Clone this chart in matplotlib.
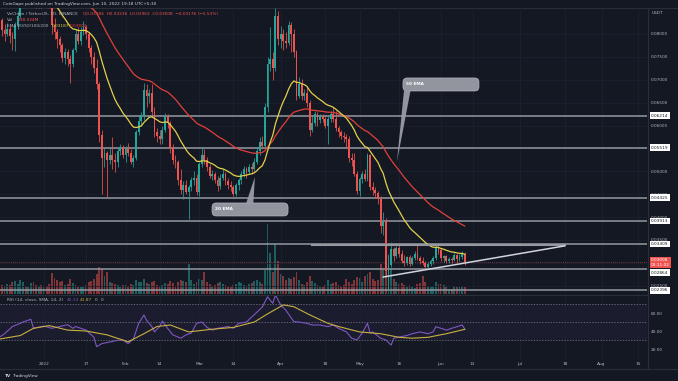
import matplotlib
matplotlib.use("Agg")
import matplotlib.pyplot as plt
import matplotlib.transforms as mtransforms
from matplotlib.colors import to_rgba
from matplotlib.lines import Line2D
from matplotlib.patches import FancyBboxPatch, Polygon
import numpy as np
import pandas as pd

# ---------------------------------------------------------------------------
# Data: VET/USDT daily, 16 Dec 2021 -> 10 Jun 2022
# ---------------------------------------------------------------------------
FIRST_DAY = "2021-12-16"
FIRST_OPEN = 0.0830

CLOSE = [
    # Dec 16-31
    0.0808, 0.0800, 0.0812, 0.0795, 0.0790, 0.0818, 0.0840, 0.0890,
    0.0905, 0.0900, 0.0915, 0.0940, 0.0880, 0.0860, 0.0870, 0.0860,
    # Jan
    0.0885, 0.0880, 0.0860, 0.0820, 0.0805, 0.0790, 0.0775, 0.0748,
    0.0760, 0.0745, 0.0735, 0.0765, 0.0800, 0.0785, 0.0805, 0.0815,
    0.0800, 0.0770, 0.0750, 0.0725, 0.0690, 0.0580, 0.0530, 0.0540,
    0.0525, 0.0535, 0.0525, 0.0520, 0.0545, 0.0552, 0.0535,
    # Feb
    0.0550, 0.0540, 0.0520, 0.0530, 0.0585, 0.0610, 0.0620, 0.0678,
    0.0665, 0.0672, 0.0630, 0.0585, 0.0578, 0.0570, 0.0590, 0.0620,
    0.0605, 0.0550, 0.0525, 0.0520, 0.0480, 0.0460, 0.0470, 0.0455,
    0.0465, 0.0480, 0.0485, 0.0455,
    # Mar
    0.0515, 0.0535, 0.0525, 0.0510, 0.0490, 0.0495, 0.0480, 0.0468,
    0.0485, 0.0495, 0.0478, 0.0470, 0.0465, 0.0450, 0.0470, 0.0480,
    0.0495, 0.0505, 0.0498, 0.0510, 0.0505, 0.0520, 0.0545, 0.0565,
    0.0555, 0.0640, 0.0735, 0.0745, 0.0725, 0.0840, 0.0790,
    # Apr
    0.0800, 0.0785, 0.0780, 0.0820, 0.0800, 0.0760, 0.0665, 0.0690,
    0.0665, 0.0672, 0.0650, 0.0590, 0.0605, 0.0625, 0.0612, 0.0618,
    0.0615, 0.0600, 0.0615, 0.0625, 0.0615, 0.0595, 0.0585, 0.0578,
    0.0575, 0.0570, 0.0530, 0.0525, 0.0495, 0.0456,
    # May
    0.0483, 0.0495, 0.0483, 0.0535, 0.0465, 0.0460, 0.0452, 0.0440,
    0.0380, 0.0392, 0.0282, 0.0295, 0.0330, 0.0315, 0.0333, 0.0320,
    0.0305, 0.0300, 0.0312, 0.0298, 0.0310, 0.0320, 0.0310, 0.0305,
    0.0300, 0.0290, 0.0298, 0.0303, 0.0310, 0.0335, 0.0328,
    # Jun 1-10
    0.0310, 0.0315, 0.0305, 0.0308, 0.0306, 0.0318, 0.0308, 0.0312,
    0.03184, 0.03008,
]

HIGH = [
    0.0835, 0.0822, 0.0825, 0.0818, 0.0805, 0.0826, 0.0850, 0.0900,
    0.0930, 0.0920, 0.0930, 0.0975, 0.0945, 0.0890, 0.0885, 0.0890,
    0.0890, 0.0900, 0.0890, 0.0870, 0.0835, 0.0812, 0.0795, 0.0780,
    0.0770, 0.0768, 0.0755, 0.0770, 0.0810, 0.0815, 0.0815, 0.0828,
    0.0820, 0.0805, 0.0775, 0.0760, 0.0745, 0.0695, 0.0590, 0.0550,
    0.0545, 0.0550, 0.0575, 0.0540, 0.0550, 0.0560, 0.0558,
    0.0556, 0.0562, 0.0548, 0.0536, 0.0590, 0.0622, 0.0630, 0.0693,
    0.0690, 0.0680, 0.0690, 0.0640, 0.0595, 0.0590, 0.0600, 0.0628,
    0.0625, 0.0610, 0.0560, 0.0535, 0.0525, 0.0505, 0.0478, 0.0480,
    0.0470, 0.0488, 0.0500, 0.0495,
    0.0520, 0.0554, 0.0548, 0.0532, 0.0515, 0.0502, 0.0498, 0.0490,
    0.0495, 0.0505, 0.0498, 0.0485, 0.0478, 0.0470, 0.0475, 0.0485,
    0.0500, 0.0512, 0.0510, 0.0516, 0.0518, 0.0530, 0.0552, 0.0575,
    0.0578, 0.0650, 0.0750, 0.0815, 0.0760, 0.0857, 0.0850,
    0.0818, 0.0810, 0.0805, 0.0828, 0.0826, 0.0812, 0.0765, 0.0705,
    0.0702, 0.0680, 0.0685, 0.0655, 0.0620, 0.0632, 0.0630, 0.0625,
    0.0625, 0.0620, 0.0620, 0.0632, 0.0640, 0.0632, 0.0600, 0.0590,
    0.0585, 0.0582, 0.0578, 0.0540, 0.0540, 0.0500,
    0.0488, 0.0500, 0.0505, 0.0541, 0.0537, 0.0476, 0.0465, 0.0456,
    0.0445, 0.0410, 0.0398, 0.0318, 0.0345, 0.0335, 0.0337, 0.0340,
    0.0328, 0.0318, 0.0316, 0.0318, 0.0315, 0.0325, 0.0338, 0.0316,
    0.0312, 0.0305, 0.0302, 0.0308, 0.0314, 0.0340, 0.0340,
    0.0332, 0.0318, 0.0318, 0.0312, 0.0312, 0.0322, 0.0320, 0.0320,
    0.0326, 0.03236,
]

LOW = [
    0.0795, 0.0785, 0.0795, 0.0780, 0.0765, 0.0763, 0.0812, 0.0835,
    0.0880, 0.0885, 0.0890, 0.0905, 0.0870, 0.0856, 0.0857, 0.0856,
    0.0858, 0.0865, 0.0856, 0.0800, 0.0790, 0.0770, 0.0760, 0.0738,
    0.0735, 0.0730, 0.0693, 0.0728, 0.0760, 0.0778, 0.0775, 0.0798,
    0.0790, 0.0760, 0.0735, 0.0715, 0.0680, 0.0565, 0.0450, 0.0510,
    0.0443, 0.0515, 0.0505, 0.0498, 0.0510, 0.0535, 0.0528,
    0.0520, 0.0533, 0.0515, 0.0510, 0.0525, 0.0580, 0.0600, 0.0612,
    0.0640, 0.0650, 0.0620, 0.0575, 0.0563, 0.0560, 0.0560, 0.0585,
    0.0595, 0.0540, 0.0515, 0.0508, 0.0470, 0.0450, 0.0440, 0.0450,
    0.0396, 0.0458, 0.0470, 0.0448,
    0.0446, 0.0510, 0.0515, 0.0500, 0.0485, 0.0480, 0.0475, 0.0458,
    0.0462, 0.0480, 0.0470, 0.0462, 0.0458, 0.0445, 0.0445, 0.0460,
    0.0472, 0.0488, 0.0485, 0.0495, 0.0495, 0.0500, 0.0515, 0.0535,
    0.0548, 0.0552, 0.0630, 0.0720, 0.0700, 0.0720, 0.0775,
    0.0770, 0.0765, 0.0770, 0.0775, 0.0760, 0.0750, 0.0655, 0.0660,
    0.0655, 0.0655, 0.0640, 0.0578, 0.0585, 0.0598, 0.0600, 0.0605,
    0.0608, 0.0595, 0.0560, 0.0608, 0.0608, 0.0588, 0.0575, 0.0570,
    0.0565, 0.0550, 0.0520, 0.0512, 0.0490, 0.0450,
    0.0446, 0.0475, 0.0478, 0.0478, 0.0460, 0.0448, 0.0442, 0.0428,
    0.0365, 0.0360, 0.0270, 0.0240, 0.0290, 0.0305, 0.0310, 0.0312,
    0.0300, 0.0292, 0.0295, 0.0292, 0.0296, 0.0306, 0.0306, 0.0298,
    0.0295, 0.0286, 0.0288, 0.0293, 0.0298, 0.0306, 0.0320,
    0.0305, 0.0302, 0.0300, 0.0300, 0.0300, 0.0304, 0.0300, 0.0303,
    0.0308, 0.02963,
]

# volume in millions of VET
VOLUME = [
    180, 160, 200, 180, 240, 260, 200, 280, 240, 160, 140, 220, 240, 180, 160, 180,
    140, 160, 200, 420, 320, 280, 240, 260, 180, 200, 300, 220, 180, 160, 140, 160,
    180, 240, 260, 300, 400, 540, 500, 360, 440, 240, 220, 200, 180, 140, 180,
    180, 160, 200, 180, 280, 240, 240, 300, 220, 200, 240, 260, 180, 160, 180, 220,
    200, 260, 220, 160, 240, 280, 260, 240, 600, 280, 200, 240,
    300, 280, 440, 240, 200, 160, 180, 220, 240, 200, 180, 160, 140, 180, 200, 240,
    220, 180, 160, 200, 220, 260, 280, 240, 200, 480, 1400, 820, 440, 1000, 660,
    400, 360, 280, 320, 300, 340, 440, 280, 200, 180, 240, 360, 260, 220, 180, 160,
    140, 180, 280, 200, 220, 240, 180, 160, 180, 300, 240, 200, 280, 340,
    320, 240, 360, 400, 440, 300, 260, 280, 600, 500, 760, 800, 500, 300, 240, 200,
    220, 180, 160, 180, 140, 120, 200, 220, 360, 240, 160, 140, 160, 240, 200,
    200, 180, 140, 100, 100, 160, 140, 160, 140, 139,
]

EMA20_SEED = 0.092
EMA50_SEED = 0.100

# horizontal levels drawn on the chart
LEVELS = [0.06214, 0.05519, 0.04425, 0.03913, 0.03409, 0.02864, 0.02396]
LAST_PRICE = 0.03008

# triangle pattern (dates, prices)
SUPPORT_DATES = ["2022-05-10", "2022-07-18"]
SUPPORT_PRICES = [0.0269, 0.0337]
RESIST_DATES = ["2022-04-13", "2022-07-18"]
RESIST_PRICES = [0.0338, 0.0338]

# RSI(14) and its SMA(14), read as (day since 1 Jan 2022, value)
RSI_DAY = [-17, -15, -12, -9, -8, -5, -4, 0, 3, 6, 9, 11, 12, 16, 19, 20, 22, 25,
           28, 30, 32, 34, 36, 38, 39, 41, 42, 44, 45, 47, 49, 52, 54, 56, 58, 60,
           62, 64, 66, 70, 72, 74, 77, 79, 81, 83, 85, 86, 87, 88, 90, 92, 95, 97,
           100, 102, 105, 108, 110, 112, 115, 117, 119, 121, 123, 124, 125, 128,
           130, 132, 133, 135, 138, 140, 143, 146, 148, 149, 151, 153, 155, 157,
           159, 160]
RSI_VALUE = [33, 37, 45, 48.5, 50, 53, 43, 45.5, 43, 45, 47, 43, 45, 41, 33, 22.6,
             26, 27.8, 29.6, 30, 26, 31, 48.5, 57.8, 52, 45, 39, 45, 51, 43, 35.7,
             32, 35.7, 37.7, 48.5, 50, 44, 41, 43, 45, 43, 48.5, 50, 55.6, 61, 66.6,
             78, 74.4, 70.7, 80, 69, 63, 50.4, 50, 48.5, 46.7, 46.7, 44.8, 46.7, 43,
             39, 32, 30, 37.7, 48.5, 37.7, 39, 32, 30, 24.4, 32, 33.3, 35, 37, 39,
             37, 39, 44.8, 43, 41, 43, 44.8, 46.7, 42.13]
RSI_MA_DAY = [-17, -9, -4, 2, 9, 16, 24, 32, 38, 43, 48, 55, 64, 72, 80, 85, 91,
              95, 101, 108, 112, 120, 128, 135, 140, 146, 153, 160]
RSI_MA_VALUE = [31, 35, 43, 46, 41, 40, 35.7, 28, 37, 45, 46.7, 39, 42, 44, 50, 59,
                69, 67, 58, 48.5, 45, 39, 37, 33, 32, 33, 37, 41.87]

TICK_DATES = ["2022-01-01", "2022-01-17", "2022-02-01", "2022-02-14", "2022-03-01",
              "2022-03-14", "2022-04-01", "2022-04-18", "2022-05-01", "2022-05-16",
              "2022-06-01", "2022-06-13", "2022-07-01", "2022-07-18", "2022-08-01",
              "2022-08-15"]
TICK_LABELS = ["2022", "17", "Feb", "14", "Mar", "14", "Apr", "18", "May", "16",
               "Jun", "13", "Jul", "18", "Aug", "15"]

# ---------------------------------------------------------------------------
# Style
# ---------------------------------------------------------------------------
W, H = 678, 381
BG = "#141823"
GRID = "#1c2030"
TEXT = "#b2b5be"
GREEN = "#26a69a"
RED = "#ef5350"
EMA20_COLOR = "#e3d04a"
EMA50_COLOR = "#e0413a"
LEVEL_COLOR = "#9598a1"
RSI_COLOR = "#7e57c2"
RSI_MA_COLOR = "#c8b040"
FS = 3.1
ORIGIN = pd.Timestamp("2022-01-01")
X_LEFT, X_RIGHT = -16.73, 229.3
P_TOP, P_BOTTOM = 0.08568, 0.02319


def day_of(dates):
    return np.asarray((pd.to_datetime(dates) - ORIGIN).days, dtype=float)


def frac(x0, y0, x1, y1):
    return [x0 / W, 1 - y1 / H, (x1 - x0) / W, (y1 - y0) / H]


def fig_text(fig, x, y, s, **kw):
    kw.setdefault("fontsize", FS)
    kw.setdefault("color", TEXT)
    fig.text(x / W, 1 - y / H, s, va="center", ha=kw.pop("ha", "left"), **kw)


# ---------------------------------------------------------------------------
# Derived series
# ---------------------------------------------------------------------------
close = np.array(CLOSE)
high = np.array(HIGH)
low = np.array(LOW)
volume = np.array(VOLUME, dtype=float)
open_ = np.concatenate([[FIRST_OPEN], close[:-1]])
dates = pd.date_range(FIRST_DAY, periods=len(close), freq="D")
day = day_of(dates)
up = close >= open_

ema20 = pd.Series([EMA20_SEED] + CLOSE).ewm(span=20, adjust=False).mean().to_numpy()[1:]
ema50 = pd.Series([EMA50_SEED] + CLOSE).ewm(span=50, adjust=False).mean().to_numpy()[1:]

# ---------------------------------------------------------------------------
# Figure
# ---------------------------------------------------------------------------
fig = plt.figure(figsize=(W / 100, H / 100), dpi=100, facecolor=BG)

ax = fig.add_axes(frac(0, 8, 647, 294))
axv = ax.twinx()
axr = fig.add_axes(frac(0, 295, 647, 360), sharex=ax)

ax.set_zorder(2)
axv.set_zorder(1)
ax.patch.set_visible(False)
axv.patch.set_facecolor(BG)
axr.set_facecolor(BG)

ax.set_xlim(X_LEFT, X_RIGHT)
ax.set_ylim(P_BOTTOM, P_TOP)

# volume
vol_colors = [to_rgba(GREEN, 0.5) if u else to_rgba(RED, 0.5) for u in up]
axv.bar(day, volume, width=0.72, color=vol_colors, linewidth=0)
axv.set_ylim(0, 5720)
axv.set_yticks([])
for side in axv.spines.values():
    side.set_visible(False)

# grid
tick_days = day_of(TICK_DATES)
price_ticks = np.arange(0.025, 0.0801, 0.005)
ax.set_xticks(tick_days)
ax.set_yticks(price_ticks)
ax.grid(color=GRID, linewidth=0.6)
ax.tick_params(axis="x", length=0, labelbottom=False)
ax.yaxis.tick_right()
# the 0.03000 label is hidden behind the last-price tag on the original
ax.set_yticklabels(["" if abs(v - 0.03) < 1e-9 else f"{v:.5f}" for v in price_ticks])
ax.tick_params(axis="y", length=0, pad=3, labelsize=FS, labelcolor=TEXT)
for side in ax.spines.values():
    side.set_visible(False)

# level lines
for level in LEVELS:
    ax.axhline(level, color=LEVEL_COLOR, linewidth=1.1, zorder=2)
ax.axhline(LAST_PRICE, color=RED, linewidth=0.6, linestyle=(0, (1, 1.5)), alpha=0.6, zorder=2)

# candles
candle_colors = np.where(up, GREEN, RED)
ax.vlines(day, low, high, colors=candle_colors, linewidth=0.55, zorder=3)
body = np.maximum(np.abs(close - open_), 0.00008)
ax.bar(day, body, bottom=np.minimum(open_, close), width=0.7,
       color=candle_colors, linewidth=0, zorder=4)

# moving averages
ax.plot(day, ema50, color=EMA50_COLOR, linewidth=0.9, zorder=5)
ax.plot(day, ema20, color=EMA20_COLOR, linewidth=0.9, zorder=5)

# triangle pattern
ax.plot(day_of(RESIST_DATES), RESIST_PRICES, color=LEVEL_COLOR, linewidth=1.5, zorder=5)
ax.plot(day_of(SUPPORT_DATES), SUPPORT_PRICES, color="#d1d4dc", linewidth=1.1, zorder=5)

# callouts
aspect = ((P_TOP - P_BOTTOM) / 286) / ((X_RIGHT - X_LEFT) / 647)


def callout(x0, x1, y0, y1, tail, label):
    box = FancyBboxPatch((x0, y0), x1 - x0, y1 - y0,
                         boxstyle="round,pad=0,rounding_size=1.6",
                         mutation_aspect=aspect, facecolor="#9a9ca6",
                         edgecolor="#b8bac2", linewidth=0.5, alpha=0.95, zorder=6)
    ax.add_patch(box)
    ax.add_patch(Polygon(tail, closed=True, facecolor="#9a9ca6",
                         edgecolor="none", alpha=0.95, zorder=6))
    ax.text(x0 + 1.2, (y0 + y1) / 2, label, color="white", fontsize=FS,
            fontweight="bold", va="center", ha="left", zorder=7)


callout(136.5, 165.4, 0.06755, 0.07039,
        [(136.9, 0.06770), (139.4, 0.06770), (134.2, 0.05203)], "50 EMA")
callout(63.9, 92.8, 0.04024, 0.04308,
        [(76.8, 0.04290), (79.6, 0.04290), (80.2, 0.04876)], "20 EMA")

# right-hand price labels (the 0.02864 tag sits just under the last-price tag)
lab_tr = mtransforms.blended_transform_factory(ax.transAxes, ax.transData)
tag_shift = {0.02864: -0.0008}
for level in LEVELS:
    ax.text(1.006, level + tag_shift.get(level, 0.0), f"{level:.5f}", transform=lab_tr,
            fontsize=FS, color=BG, va="center", ha="left", clip_on=False, zorder=10,
            bbox=dict(boxstyle="square,pad=0.3", fc="white", ec="none"))
ax.text(1.006, LAST_PRICE + 0.00003, f"{LAST_PRICE:.5f}\n03:11:02", transform=lab_tr,
        fontsize=FS, color="white", va="center", ha="left", clip_on=False, zorder=9,
        linespacing=1.2,
        bbox=dict(boxstyle="square,pad=0.3", fc=RED, ec="none"))

# ---------------------------------------------------------------------------
# RSI pane
# ---------------------------------------------------------------------------
axr.set_ylim(7.8, 80)
axr.axhspan(30, 70, color=RSI_COLOR, alpha=0.08, linewidth=0)
for lvl in (70, 50, 30):
    axr.axhline(lvl, color="#787b86", linewidth=0.5, linestyle=(0, (2, 2)))
axr.plot(RSI_DAY, RSI_VALUE, color=RSI_COLOR, linewidth=0.8)
axr.plot(RSI_MA_DAY, RSI_MA_VALUE, color=RSI_MA_COLOR, linewidth=0.8)
axr.set_xticks(tick_days)
axr.set_xticklabels(TICK_LABELS)
axr.grid(axis="x", color=GRID, linewidth=0.6)
axr.tick_params(axis="x", length=0, pad=1.6, labelsize=FS, labelcolor=TEXT)
axr.yaxis.tick_right()
axr.set_yticks([20, 40, 60])
axr.set_yticklabels(["20.00", "40.00", "60.00"])
axr.tick_params(axis="y", length=0, pad=3, labelsize=FS, labelcolor=TEXT)
for side in axr.spines.values():
    side.set_visible(False)

# ---------------------------------------------------------------------------
# Frame lines and header texts
# ---------------------------------------------------------------------------
SEP = "#2a2e39"
for (x0, y0, x1, y1) in [(0, 7.5, W, 7.5), (0, 294.5, 647, 294.5),
                         (647.5, 7.5, 647.5, 369), (0, 369, W, 369)]:
    fig.add_artist(Line2D([x0 / W, x1 / W], [1 - y0 / H, 1 - y1 / H],
                          color=SEP, linewidth=0.8, transform=fig.transFigure))

fig_text(fig, 3, 4, "CoinGape published on TradingView.com, Jun 10, 2022 19:18 UTC+5:30",
         color="#d1d4dc")
fig_text(fig, 7, 14, "VeChain / TetherUS, 1D, BINANCE")
fig_text(fig, 83, 14, "O0.03184  H0.03236  L0.02963  C0.03008  \u22120.00176 (\u22125.53%)",
         color=RED)
fig_text(fig, 7, 20, "Vol")
fig_text(fig, 17, 20, "138.934M", color=RED)
fig_text(fig, 7, 26, "EMA 20/50/100/200")
fig_text(fig, 52, 26, f"{ema20[-1]:.5f}", color=EMA20_COLOR)
fig_text(fig, 70, 26, f"{ema50[-1]:.5f}", color=EMA50_COLOR)
fig_text(fig, 652, 13, "USDT")
fig_text(fig, 7, 300, "RSI (14, close, SMA, 14, 2)")
fig_text(fig, 67, 300, "42.13", color=RSI_COLOR)
fig_text(fig, 80, 300, "41.87", color=RSI_MA_COLOR)
fig_text(fig, 95, 300, "0")
fig_text(fig, 101, 300, "0")
fig_text(fig, 4, 376, "TV", color="#d1d4dc", fontweight="bold")
fig_text(fig, 13, 376, "TradingView", color="#d1d4dc")

fig.savefig("out.png", dpi=100, facecolor=BG)
